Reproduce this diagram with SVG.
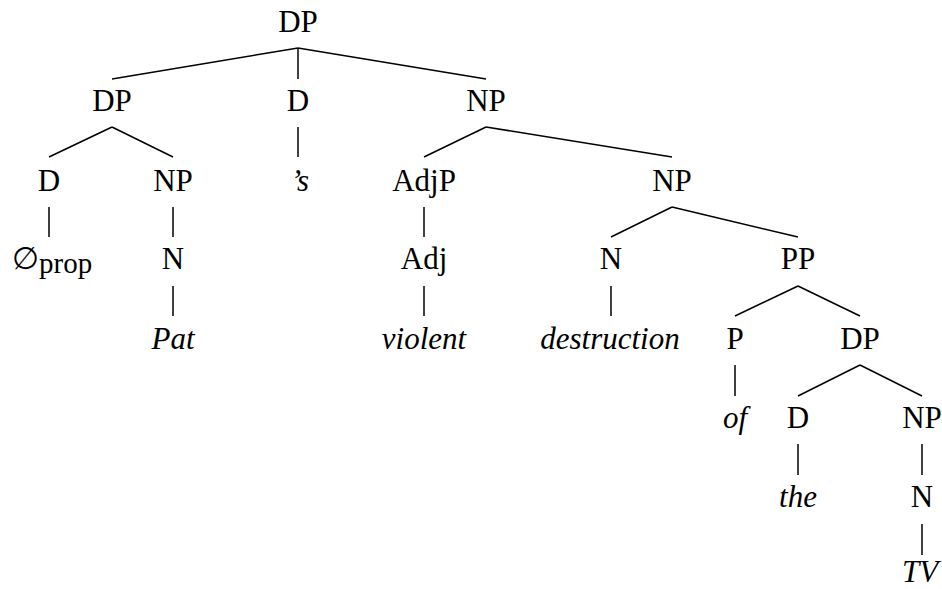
<svg xmlns="http://www.w3.org/2000/svg" width="942" height="589" viewBox="0 0 942 589">
<style>
text{font-family:"Liberation Serif","Times New Roman",serif;font-size:31px;fill:#000;text-anchor:middle}
.i{font-style:italic}
#edges line{stroke:#000;stroke-width:1.5;fill:none}
</style>
<rect width="942" height="589" fill="#fff"/>
<g id="edges">
<line x1="298" y1="48" x2="112" y2="79"/>
<line x1="298" y1="48" x2="298" y2="79"/>
<line x1="298" y1="48" x2="486" y2="79"/>
<line x1="112" y1="127" x2="49" y2="157"/>
<line x1="112" y1="127" x2="173" y2="157"/>
<line x1="298" y1="127" x2="298" y2="157"/>
<line x1="486" y1="127" x2="424" y2="157"/>
<line x1="486" y1="127" x2="672" y2="157"/>
<line x1="49" y1="207" x2="49" y2="237"/>
<line x1="173" y1="207" x2="173" y2="237"/>
<line x1="424" y1="207" x2="424" y2="237"/>
<line x1="672" y1="207" x2="611" y2="237"/>
<line x1="672" y1="207" x2="798" y2="237"/>
<line x1="173" y1="286" x2="173" y2="316"/>
<line x1="424" y1="286" x2="424" y2="316"/>
<line x1="611" y1="286" x2="611" y2="316"/>
<line x1="798" y1="286" x2="735" y2="316"/>
<line x1="798" y1="286" x2="860" y2="316"/>
<line x1="735" y1="365" x2="735" y2="396"/>
<line x1="860" y1="365" x2="798" y2="396"/>
<line x1="860" y1="365" x2="922" y2="396"/>
<line x1="798" y1="444" x2="798" y2="475"/>
<line x1="922" y1="444" x2="922" y2="475"/>
<line x1="922" y1="524" x2="922" y2="555"/>
</g>
<g id="n-root"><text x="298" y="32">DP</text></g>
<g id="n-dp1"><text x="112" y="111">DP</text></g>
<g id="n-d1"><text x="298" y="111">D</text></g>
<g id="n-np1"><text x="486" y="111">NP</text></g>
<g id="n-d2"><text x="49" y="191">D</text></g>
<g id="n-np2"><text x="173" y="191">NP</text></g>
<g id="n-s"><text x="300" y="191" class="i">’s</text></g>
<g id="n-adjp"><text x="424" y="191">AdjP</text></g>
<g id="n-np3"><text x="672" y="191">NP</text></g>
<g id="n-null"><text x="12" y="269" style="text-anchor:start">∅<tspan dy="4" font-size="29">prop</tspan></text></g>
<g id="n-n1"><text x="173" y="269">N</text></g>
<g id="n-adj"><text x="424" y="269">Adj</text></g>
<g id="n-n2"><text x="611" y="269">N</text></g>
<g id="n-pp"><text x="798" y="269">PP</text></g>
<g id="n-pat"><text x="173" y="349" class="i">Pat</text></g>
<g id="n-violent"><text x="424" y="349" class="i">violent</text></g>
<g id="n-destruction"><text x="610" y="349" class="i">destruction</text></g>
<g id="n-p"><text x="735" y="349">P</text></g>
<g id="n-dp2"><text x="860" y="349">DP</text></g>
<g id="n-of"><text x="735" y="428" class="i">of</text></g>
<g id="n-d3"><text x="798" y="428">D</text></g>
<g id="n-np4"><text x="922" y="428">NP</text></g>
<g id="n-the"><text x="798" y="507" class="i">the</text></g>
<g id="n-n3"><text x="922" y="507">N</text></g>
<g id="n-tv"><text x="920" y="582" class="i">TV</text></g>
</svg>
